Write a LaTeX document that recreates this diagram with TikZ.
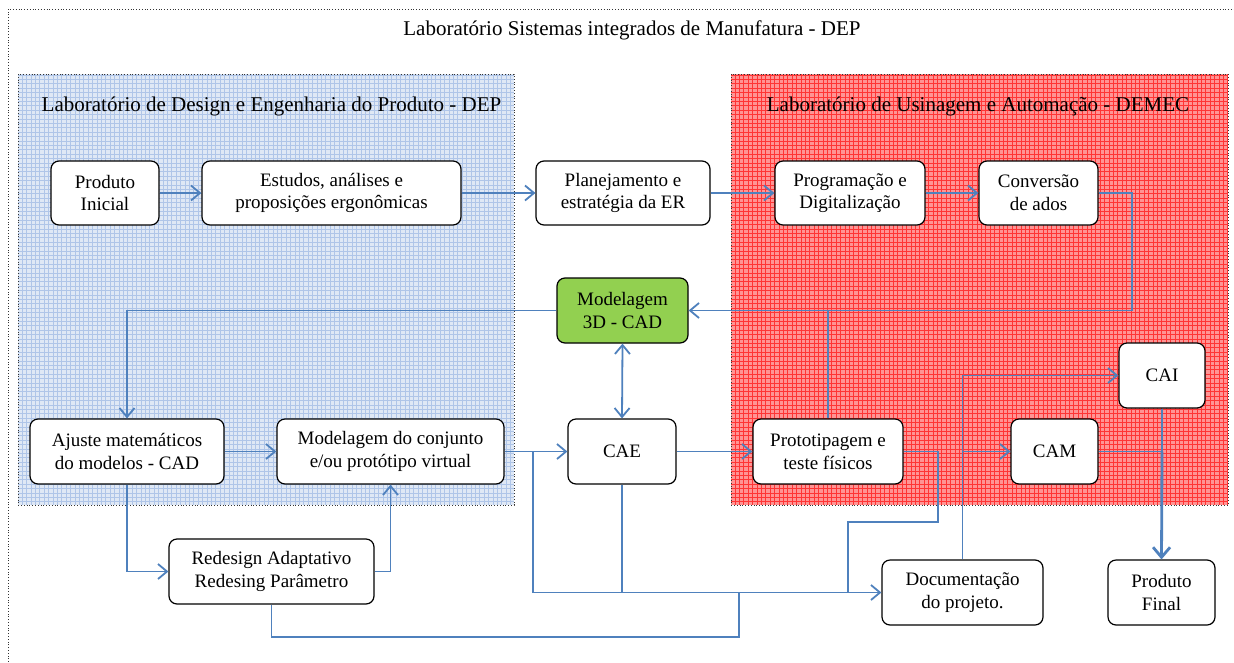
\documentclass[tikz,border=0pt]{standalone}
\usepackage{fontspec}
\setmainfont{Liberation Serif}
\usetikzlibrary{arrows.meta}
\definecolor{ln}{HTML}{4F81BD}
\definecolor{bluebg}{HTML}{DFE8F5}
\definecolor{bluegrid}{HTML}{AFC5E8}
\definecolor{redbg}{HTML}{FF9494}
\definecolor{redgrid}{HTML}{FF3535}
\definecolor{grn}{HTML}{92D050}
\begin{document}
\begin{tikzpicture}[x=1pt,y=-1pt,
  box/.style={draw=black, line width=1.2pt, rounded corners=8pt, fill=white, align=center,
    font=\fontsize{19}{22.7}\selectfont, inner sep=0pt, minimum height=65pt},
  conn/.style={draw=ln, line width=1.8pt},
  arr/.style={conn, -{Straight Barb[length=9pt,width=15pt,line width=1.8pt]}},
  arrb/.style={conn, {Straight Barb[length=9pt,width=15pt,line width=1.8pt]}-{Straight Barb[length=9pt,width=15pt,line width=1.8pt]}},
  lbl/.style={font=\fontsize{21}{25}\selectfont, inner sep=0pt},
  frame/.style={draw=black!80, line width=0.8pt, dotted}]
\useasboundingbox (0,0) rectangle (1234,662);
\fill[white] (0,0) rectangle (1234,662);
% outer frame
\draw[frame] (8,662) -- (8,9) -- (1234,9);
\node[lbl] (title) at (632,30) {Laboratório Sistemas integrados de Manufatura - DEP};
% blue region
\fill[bluebg] (18,74) rectangle (514,505);
\begin{scope}
\clip (18,74) rectangle (514,505);
\draw[bluegrid, line width=0.6pt, step=4.4pt] (18,74) grid (514,505);
\end{scope}
\draw[frame] (18,74) rectangle (514,505);
\node[lbl] (bluelbl) at (271.5,106) {Laboratório de Design e Engenharia do Produto - DEP};
% red region
\fill[redbg] (731,74) rectangle (1228,505);
\begin{scope}
\clip (731,74) rectangle (1228,505);
\draw[redgrid, line width=0.6pt, step=4.4pt] (731,74) grid (1228,505);
\end{scope}
\draw[frame] (731,74) rectangle (1228,505);
\node[lbl] (redlbl) at (978,106) {Laboratório de Usinagem e Automação - DEMEC};
% boxes
\node[box, minimum width=108pt, minimum height=64pt] (pi) at (105,193) {Produto\\Inicial};
\node[box, minimum width=259pt, minimum height=64pt] (est) at (331.5,193) {Estudos, análises e\\proposições ergonômicas};
\node[box, minimum width=174pt, minimum height=64pt] (plan) at (623,193) {Planejamento e\\estratégia da ER};
\node[box, minimum width=150pt, minimum height=64pt] (prog) at (850,193) {Programação e\\Digitalização};
\node[box, minimum width=119pt, minimum height=64pt] (conv) at (1038.5,193) {Conversão\\de ados};
\node[box, fill=grn, minimum width=131pt] (mod) at (622.5,310.5) {Modelagem\\3D - CAD};
\node[box, minimum width=194pt] (aj) at (127,451.5) {Ajuste matemáticos\\do modelos - CAD};
\node[box, minimum width=227pt] (mc) at (390.5,451.5) {Modelagem do conjunto\\e/ou protótipo virtual};
\node[box, minimum width=108pt] (cae) at (622,451.5) {CAE};
\node[box, minimum width=150pt] (proto) at (828,451.5) {Prototipagem e\\teste físicos};
\node[box, minimum width=87pt] (cam) at (1054.5,451.5) {CAM};
\node[box, minimum width=86pt] (cai) at (1162,375.5) {CAI};
\node[box, minimum width=205pt] (red) at (271.5,571.5) {Redesign Adaptativo\\Redesing Parâmetro};
\node[box, minimum width=161pt] (doc) at (962.5,592.5) {Documentação\\do projeto.};
\node[box, minimum width=107pt] (pf) at (1161.5,592.5) {Produto\\Final};
% coordinates
\coordinate (c1) at (1132,193);
\coordinate (j1) at (533,451.5);
\coordinate (j2) at (739,592.5);
\coordinate (p1) at (938,451.5);
\coordinate (p2) at (938,522);
\coordinate (p3) at (848,522);
\coordinate (p4) at (848,592.5);
\coordinate (d1) at (962.5,451.5);
\coordinate (k1) at (1162,451.5);
\coordinate (r1) at (271.5,637);
% connectors
\draw[arr] (pi) -- (est);
\draw[arr] (est) -- (plan);
\draw[arr] (plan) -- (prog);
\draw[arr] (prog) -- (conv);
\draw[arr] (conv.east) -- (c1) |- (mod.east);
\draw[conn] (proto.north) -- (proto.north |- mod.east);
\draw[arr] (mod.west) -| (aj.north);
\draw[arr] (aj) -- (mc);
\draw[arr] (aj.south) |- (red.west);
\draw[arr] (red.east) -| (mc.south);
\draw[arr] (mc) -- (cae);
\draw[arr] (j1) |- (doc.west);
\draw[conn] (cae.south) -- (cae.south |- doc.west);
\draw[conn] (red.south) -- (r1) -| (j2);
\draw[arrb] (mod.south) -- (cae.north);
\draw[arr] (cae) -- (proto);
\draw[conn] (proto.east) -- (p1) -- (p2) -- (p3) -- (p4);
\draw[arr] (doc.north) |- (cai.west);
\draw[arr] (d1) -- (cam.west);
\draw[conn] (cam.east) -- (k1);
\draw[conn] (cai.south) -- (k1);
\draw[draw=ln, line width=2.8pt, -{Straight Barb[length=10pt,width=17pt,line width=2.8pt]}] (k1) -- (pf.north);
\end{tikzpicture}
\end{document}
